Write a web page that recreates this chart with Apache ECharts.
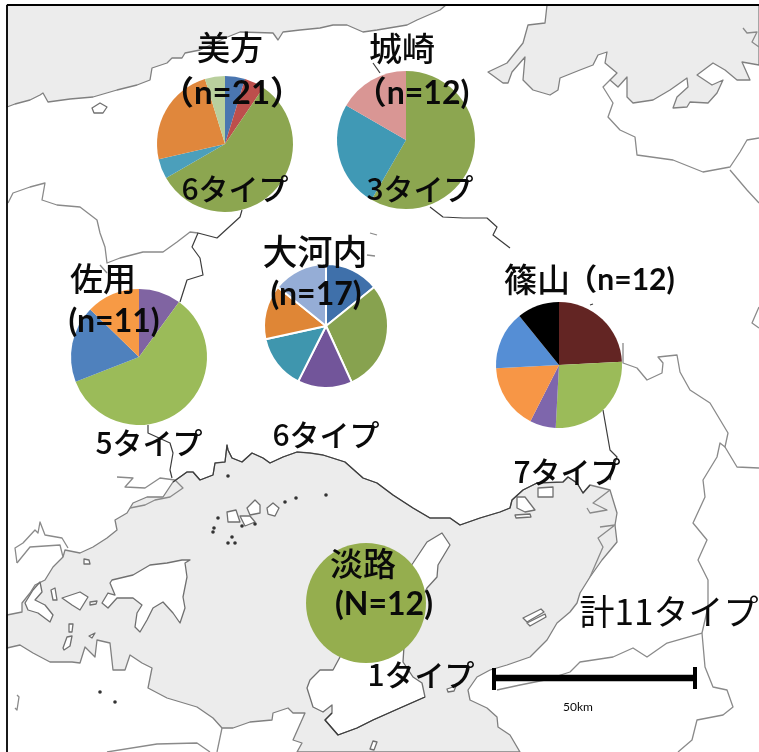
<!DOCTYPE html>
<html>
<head>
<meta charset="utf-8">
<style>
  html, body { margin: 0; padding: 0; background: #fff; }
  #chart { width: 759px; height: 752px; }
</style>
<script src="https://cdn.jsdelivr.net/npm/echarts@6/dist/echarts.min.js"></script>
</head>
<body>
<div id="chart"></div>
<script>
// slice values per site, colours differ per site in the source figure
const mikataValues = [1, 1, 12, 1, 5, 1]
const kinosakiValues = [7, 3, 2]
const sayoValues = [1.1, 6.5, 2.0, 1.4]
const okawachiValues = [2.4, 4.9, 2.4, 2.4, 2.4, 2.4]
const sasayamaValues = [2.9, 3.2, 0.8, 2.0, 1.8, 1.3]
const awajiValues = [12]

const mikataColors = ['#4a76b0', '#bd4f4c', '#8ca650', '#4b9fbb', '#e0873c', '#b9cf9d']
const kinosakiColors = ['#8ca650', '#4099b5', '#d99694']
const sayoColors = ['#8064a2', '#9bbb59', '#4f81bd', '#f79a45']
const okawachiColors = ['#3f70aa', '#87a24f', '#72559a', '#3f96ae', '#df8636', '#95add6']
const sasayamaColors = ['#632523', '#9bbb59', '#7e66ac', '#f79646', '#558ed5', '#000000']
const awajiColors = ['#95ae4e']

// basemap, traced in page pixels
const seaNorthWest = [[7, 5], [446, 5], [440, 10], [417, 20], [407, 25], [377, 30], [363, 32], [347, 25], [333, 25], [320, 28], [300, 30], [283, 32], [278, 40], [273, 33], [240, 32], [225, 38], [200, 50], [185, 53], [182, 58], [172, 58], [167, 63], [152, 68], [150, 80], [137, 85], [117, 90], [93, 97], [70, 99], [48, 102], [43, 93], [40, 95], [30, 100], [15, 104], [7, 107]]
const seaNorthEast = [[547, 5], [545, 23], [528, 25], [523, 43], [507, 63], [488, 72], [503, 83], [508, 83], [512, 72], [525, 57], [523, 80], [533, 90], [550, 95], [558, 90], [560, 78], [580, 70], [593, 65], [598, 55], [607, 52], [605, 63], [617, 73], [610, 80], [618, 87], [627, 77], [627, 97], [633, 103], [653, 100], [670, 90], [687, 78], [688, 87], [677, 97], [673, 108], [687, 107], [690, 102], [708, 103], [717, 93], [723, 80], [712, 85], [697, 75], [713, 63], [725, 70], [737, 80], [750, 80], [742, 62], [759, 65], [759, 5]]
const inlandSea = [[7, 615], [22, 612], [22, 603], [30, 593], [35, 585], [45, 580], [53, 567], [63, 557], [65, 550], [80, 553], [93, 547], [107, 538], [117, 530], [115, 520], [127, 513], [133, 503], [147, 497], [163, 497], [173, 482], [180, 477], [187, 472], [193, 472], [200, 480], [213, 475], [215, 463], [225, 462], [227, 445], [228, 450], [232, 458], [242, 462], [252, 453], [263, 458], [270, 463], [283, 457], [297, 452], [310, 453], [323, 455], [345, 462], [363, 478], [377, 483], [393, 495], [413, 508], [430, 518], [437, 518], [450, 518], [460, 525], [480, 518], [500, 512], [510, 508], [512, 500], [523, 490], [537, 483], [563, 482], [568, 477], [577, 483], [583, 493], [590, 485], [610, 490], [617, 513], [615, 525], [617, 542], [612, 548], [602, 560], [590, 577], [580, 593], [577, 603], [570, 612], [557, 623], [547, 640], [530, 657], [507, 665], [490, 670], [477, 677], [468, 690], [470, 700], [487, 708], [497, 717], [498, 727], [510, 735], [520, 752], [297, 752], [302, 743], [293, 740], [305, 713], [293, 713], [288, 708], [273, 713], [272, 720], [250, 722], [233, 728], [222, 728], [213, 718], [197, 707], [167, 698], [148, 688], [152, 668], [142, 663], [130, 655], [125, 670], [113, 670], [110, 643], [97, 640], [95, 657], [85, 647], [80, 663], [72, 662], [50, 662], [33, 653], [20, 645], [7, 648]]
const whiteIslands = [
  [[340, 657], [333, 670], [320, 670], [310, 680], [307, 688], [313, 707], [323, 712], [332, 705], [332, 713], [325, 720], [338, 735], [357, 728], [373, 720], [400, 708], [425, 697], [422, 683], [413, 677], [403, 662], [405, 630], [427, 588], [437, 577], [438, 565], [450, 545], [442, 533], [427, 542], [413, 563], [380, 610]],
  [[112, 580], [133, 575], [150, 565], [167, 563], [182, 560], [190, 560], [185, 563], [187, 577], [183, 597], [185, 608], [180, 623], [173, 613], [163, 602], [153, 608], [147, 620], [140, 632], [135, 627], [137, 613], [142, 605], [133, 598], [117, 598], [108, 608], [102, 603], [108, 593], [115, 595], [110, 583]],
  [[62, 598], [80, 592], [88, 597], [80, 610], [72, 605]],
  [[90, 602], [97, 601], [96, 604], [90, 605]],
  [[84, 559], [89, 560], [90, 564], [84, 564]],
  [[33, 590], [40, 582], [42, 592], [35, 600], [45, 605], [53, 615], [50, 622], [38, 613], [28, 610], [25, 603]],
  [[51, 590], [55, 588], [57, 600], [53, 600]],
  [[69, 624], [73, 624], [72, 632], [69, 632]],
  [[63, 648], [67, 637], [72, 636], [70, 646], [64, 650]],
  [[89, 636], [95, 633], [92, 638]],
  [[92, 108], [100, 103], [107, 107], [103, 113], [94, 113]],
  [[227, 512], [236, 510], [240, 522], [228, 522]],
  [[247, 508], [255, 500], [260, 505], [260, 513], [250, 515]],
  [[267, 508], [273, 503], [279, 508], [275, 516], [268, 514]],
  [[240, 516], [250, 516], [255, 522], [245, 526]],
  [[523, 618], [541, 609], [544, 612], [527, 622]],
  [[527, 623], [545, 614], [546, 617], [530, 626]],
  [[373, 741], [377, 742], [374, 750], [370, 749]],
  [[447, 689], [456, 686], [454, 691], [448, 692]],
  [[538, 488], [553, 487], [553, 497], [538, 497]],
  [[517, 497], [525, 497], [535, 510], [525, 512], [517, 508]],
  [[515, 515], [530, 514], [531, 517], [516, 518]]
]
const seaDots = [[285, 502], [296, 498], [326, 495], [218, 518], [214, 528], [213, 532], [232, 537], [228, 543], [235, 543], [242, 526], [255, 524], [228, 476], [115, 702], [100, 692]]
const greyLines = [
  [[8, 203], [13, 193], [30, 187], [45, 183], [42, 200], [57, 205], [80, 207], [97, 220], [100, 233], [105, 247], [107, 263], [120, 258], [143, 252], [163, 252], [177, 242], [190, 232], [198, 233]],
  [[100, 265], [107, 273]],
  [[17, 563], [30, 547], [60, 545], [63, 557]],
  [[17, 563], [15, 548], [23, 543], [35, 530], [38, 533], [40, 522], [45, 535], [62, 538], [68, 548]],
  [[117, 477], [133, 478], [125, 487], [145, 488], [160, 478], [175, 480], [183, 488], [170, 497], [155, 500], [145, 505], [130, 508]],
  [[610, 80], [603, 87], [613, 103], [608, 117], [620, 130], [635, 137], [637, 155], [673, 160], [703, 172], [730, 167], [740, 152], [747, 140], [759, 138]],
  [[730, 170], [747, 190], [759, 203]],
  [[743, 28], [747, 33], [757, 32], [752, 42], [759, 47]],
  [[623, 343], [623, 363], [637, 368], [647, 380], [662, 373], [663, 363], [658, 357], [677, 355], [680, 372], [690, 390], [710, 403], [728, 433], [725, 447], [720, 443], [717, 457], [703, 480], [705, 497], [693, 523], [707, 540], [698, 560], [708, 580], [708, 607], [702, 633], [705, 667], [713, 687], [727, 690], [733, 707], [723, 715], [697, 720], [692, 740], [678, 752]],
  [[725, 447], [737, 467], [759, 468]],
  [[702, 633], [667, 643], [647, 657], [633, 648], [613, 657], [580, 662], [570, 672], [545, 680], [520, 685], [497, 690]],
  [[759, 307], [752, 323], [759, 328]],
  [[587, 508], [590, 513], [607, 510], [593, 503], [610, 490]],
  [[600, 527], [615, 525], [598, 538], [603, 547], [590, 577]],
  [[107, 752], [157, 744], [197, 743], [210, 752]],
  [[222, 728], [217, 752]],
  [[17, 695], [19, 697], [17, 710], [15, 708]],
  [[370, 233], [377, 235]], [[367, 255], [375, 256]]
]
const darkLines = [
  [[242, 210], [240, 217], [217, 238], [198, 233], [192, 247], [200, 258], [203, 275], [187, 280], [180, 302]],
  [[148, 425], [148, 433], [170, 443], [173, 453], [170, 470], [172, 478]],
  [[373, 63], [380, 73]],
  [[430, 207], [443, 217], [463, 218], [487, 218], [497, 227], [493, 235], [510, 248]],
  [[590, 305], [593, 304]],
  [[603, 410], [610, 450], [617, 457], [613, 467], [610, 480]],
  [[173, 482], [180, 477], [187, 472], [193, 472], [200, 480], [213, 475], [215, 463], [225, 462], [227, 445], [228, 450], [232, 458], [242, 462], [252, 453], [263, 458], [270, 463], [283, 457], [297, 452], [310, 453], [323, 455], [345, 462], [363, 478], [377, 483], [393, 495], [413, 508], [430, 518], [450, 518], [460, 525], [480, 518], [500, 512], [510, 508], [512, 500], [523, 490], [537, 483], [563, 482], [568, 477], [577, 483], [583, 493], [590, 485]],
  [[425, 697], [400, 708], [373, 720], [357, 728], [338, 735], [325, 720], [332, 713]]
]

const jp = '"Noto Sans CJK JP"'
const latinBold = 'Lato, ' + jp
const pies = [
  { name: '美方', values: mikataValues, colors: mikataColors, center: [225, 144], radius: 68 },
  { name: '城崎', values: kinosakiValues, colors: kinosakiColors, center: [406, 140], radius: 69 },
  { name: '佐用', values: sayoValues, colors: sayoColors, center: [139, 357], radius: 68 },
  { name: '大河内', values: okawachiValues, colors: okawachiColors, center: [326, 326], radius: 62, border: 2 },
  { name: '篠山', values: sasayamaValues, colors: sasayamaColors, center: [559, 365], radius: 63 },
  { name: '淡路', values: awajiValues, colors: awajiColors, center: [366, 603], radius: 60 },
]

const texts = [
  ['美方', 230, 47, 33, 500, jp],
  ['（n=21）', 232, 93, 33, 'bold', latinBold],
  ['6タイプ', 235, 189, 30, 500, jp],
  ['城崎', 402, 48, 33, 500, jp],
  ['（n=12)', 412, 94, 32, 'bold', latinBold],
  ['3タイプ', 420, 189, 30, 500, jp],
  ['佐用', 103, 278, 33, 500, jp],
  ['(n=11)', 114, 322, 32, 'bold', latinBold],
  ['5タイプ', 149, 443, 30, 500, jp],
  ['大河内', 315, 252, 35, 500, jp],
  ['(n=17)', 316, 295, 32, 'bold', latinBold],
  ['6タイプ', 326, 435, 30, 500, jp],
  ['篠山', 537, 279, 33, 500, jp],
  ['（n=12)', 621, 280, 30, 'bold', latinBold],
  ['7タイプ', 567, 472, 30, 500, jp],
  ['淡路', 363, 563, 33, 500, jp],
  ['(N=12)', 384, 605, 32, 'bold', latinBold],
  ['1タイプ', 421, 675, 30, 500, jp],
  ['計11タイプ', 669, 612, 35, 'normal', jp],
  ['50km', 578, 707, 12, 'normal', 'Lato, sans-serif'],
]

const chartDom = document.getElementById('chart')
const myChart = echarts.init(chartDom, null, { renderer: 'canvas' })

const poly = (points, fill, stroke, lineWidth, z) => ({
  type: 'polygon',
  silent: true,
  z,
  shape: { points },
  style: { fill, stroke, lineWidth, lineJoin: 'round' },
})
const line = (points, stroke, lineWidth) => ({
  type: 'polyline',
  silent: true,
  z: 2,
  shape: { points },
  style: { fill: null, stroke, lineWidth, lineJoin: 'round' },
})
const bar = (x1, y1, x2, y2, w) => ({
  type: 'line',
  silent: true,
  z: 20,
  shape: { x1, y1, x2, y2 },
  style: { stroke: '#000', lineWidth: w },
})

const graphicElements = [
  poly(seaNorthWest, '#ececec', '#808080', 1.3, 0),
  poly(seaNorthEast, '#ececec', '#808080', 1.3, 0),
  poly(inlandSea, '#ececec', '#808080', 1.3, 0),
  ...whiteIslands.map((p) => poly(p, '#fff', '#707070', 1.3, 1)),
  ...seaDots.map(([cx, cy]) => ({
    type: 'circle',
    silent: true,
    z: 2,
    shape: { cx, cy, r: 1.8 },
    style: { fill: '#333' },
  })),
  ...greyLines.map((p) => line(p, '#8a8a8a', 1.3)),
  ...darkLines.map((p) => line(p, '#3c3c3c', 1.2)),
  // frame
  bar(7, 5, 759, 5, 1.8),
  bar(7, 5, 7, 752, 1.8),
  // scale bar
  bar(493, 678, 695, 678, 6.5),
  bar(494, 668, 494, 690, 4),
  bar(695, 667, 695, 689, 4),
  ...texts.map(([text, x, y, fontSize, fontWeight, fontFamily]) => ({
    type: 'text',
    silent: true,
    z: 30,
    x,
    y,
    style: {
      text,
      fontSize,
      fontWeight,
      fontFamily,
      fill: '#0a0a0a',
      textAlign: 'center',
      textVerticalAlign: 'middle',
    },
  })),
]

const option = {
  backgroundColor: '#fff',
  animation: false,
  graphic: { elements: graphicElements },
  series: pies.map((p) => ({
    name: p.name,
    type: 'pie',
    z: 5,
    center: p.center,
    radius: [0, p.radius],
    startAngle: 90,
    clockwise: true,
    silent: true,
    label: { show: false },
    labelLine: { show: false },
    itemStyle: { borderColor: '#fff', borderWidth: p.border || 0 },
    data: p.values.map((value, i) => ({
      value,
      itemStyle: { color: p.colors[i] },
    })),
  })),
}
myChart.setOption(option)
</script>
</body>
</html>
